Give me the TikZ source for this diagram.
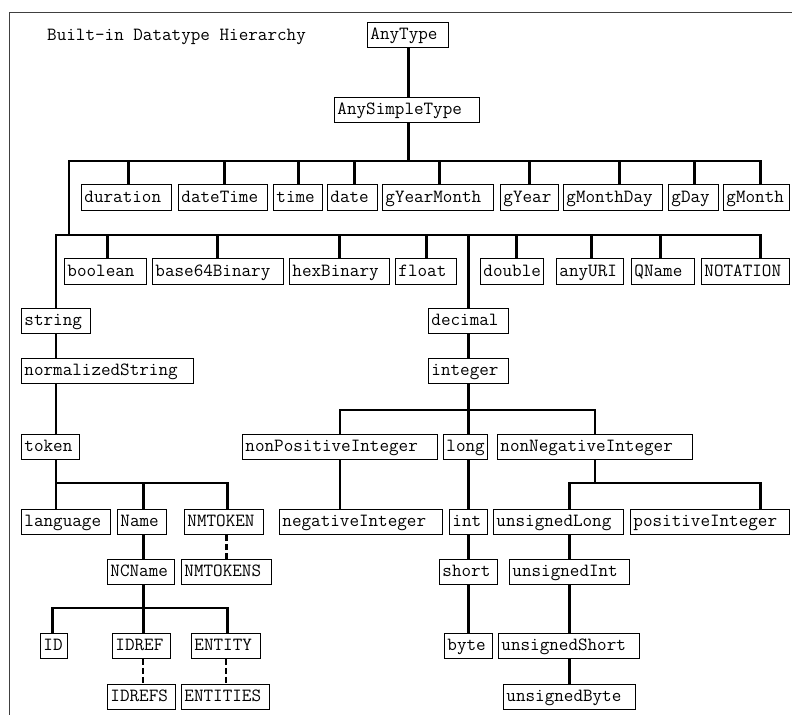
\documentclass[tikz,border=0pt]{standalone}
\usepackage{fontspec}
% fixed-width, left-aligned label inside a box of total width #1 (pt)
\newcommand\boxlbl[2]{\hbox to \dimexpr#1pt-6pt\relax{#2\hss}}
\begin{document}
\begin{tikzpicture}[x=1pt,y=-1pt,
  typ/.style={draw, line width=0.9pt, anchor=north west, inner xsep=3pt, inner ysep=0pt,
    minimum height=25pt, text height=13pt, text depth=3pt,
    font=\fontsize{18.6}{20}\selectfont\ttfamily},
  tall/.style={minimum height=26pt},
  link/.style={line width=2.6pt},
  dlink/.style={line width=2.4pt, dash pattern=on 6pt off 3pt},
  frame/.style={line width=1pt, black!75}]
\useasboundingbox (0,0) rectangle (792,715);
\draw[frame] (792,12) -- (9,12) -- (9,715);

\node[anchor=base west, inner sep=0pt, font=\fontsize{18.6}{20}\selectfont\ttfamily] (title) at (47,40) {Built-in Datatype Hierarchy};

% ---- top of the hierarchy
\node[typ] (anytype)   at (367,22) {\boxlbl{81}{AnyType}};
\node[typ] (anysimple) at (334,97) {\boxlbl{145}{AnySimpleType}};

% ---- date and time types
\node[typ,tall] (duration)   at (81,184)  {\boxlbl{90}{duration}};
\node[typ,tall] (datetime)   at (178,184) {\boxlbl{89}{dateTime}};
\node[typ,tall] (time)       at (273,184) {\boxlbl{49}{time}};
\node[typ,tall] (date)       at (327,184) {\boxlbl{50}{date}};
\node[typ,tall] (gyearmonth) at (382,184) {\boxlbl{111}{gYearMonth}};
\node[typ,tall] (gyear)      at (500,184) {\boxlbl{58}{gYear}};
\node[typ,tall] (gmonthday)  at (563,184) {\boxlbl{99}{gMonthDay}};
\node[typ,tall] (gday)       at (668,184) {\boxlbl{50}{gDay}};
\node[typ,tall] (gmonth)     at (723,184) {\boxlbl{66}{gMonth}};

% ---- other primitive types
\node[typ,tall] (boolean)   at (64,258)  {\boxlbl{82}{boolean}};
\node[typ,tall] (base64)    at (152,258) {\boxlbl{131}{base64Binary}};
\node[typ,tall] (hexbinary) at (289,258) {\boxlbl{100}{hexBinary}};
\node[typ,tall] (float)     at (395,258) {\boxlbl{61}{float}};
\node[typ,tall] (double)    at (480,258) {\boxlbl{63}{double}};
\node[typ,tall] (anyuri)    at (556,258) {\boxlbl{67}{anyURI}};
\node[typ,tall] (qname)     at (631,258) {\boxlbl{63}{QName}};
\node[typ,tall] (notation)  at (701,258) {\boxlbl{88}{NOTATION}};

% ---- string branch
\node[typ] (string)   at (21,308) {\boxlbl{69}{string}};
\node[typ] (normstr)  at (21,358) {\boxlbl{172}{normalizedString}};
\node[typ] (token)    at (21,434) {\boxlbl{58}{token}};
\node[typ] (language) at (21,509) {\boxlbl{89}{language}};
\node[typ] (name)     at (117,509) {\boxlbl{49}{Name}};
\node[typ] (nmtoken)  at (184,509) {\boxlbl{79}{NMTOKEN}};
\node[typ] (ncname)   at (107,559) {\boxlbl{67}{NCName}};
\node[typ] (nmtokens) at (181,559) {\boxlbl{90}{NMTOKENS}};
\node[typ] (id)       at (40,633)  {\boxlbl{27}{ID}};
\node[typ] (idref)    at (112,633) {\boxlbl{58}{IDREF}};
\node[typ] (entity)   at (191,633) {\boxlbl{69}{ENTITY}};
\node[typ] (idrefs)   at (107,684) {\boxlbl{68}{IDREFS}};
\node[typ] (entities) at (181,684) {\boxlbl{88}{ENTITIES}};

% ---- decimal branch
\node[typ] (decimal) at (428,308) {\boxlbl{80}{decimal}};
\node[typ] (integer) at (428,358) {\boxlbl{80}{integer}};
\node[typ] (nonpos)  at (242,434) {\boxlbl{195}{nonPositiveInteger}};
\node[typ] (long)    at (443,434) {\boxlbl{44}{long}};
\node[typ] (nonneg)  at (497,434) {\boxlbl{195}{nonNegativeInteger}};
\node[typ] (negint)  at (279,509) {\boxlbl{163}{negativeInteger}};
\node[typ] (int)     at (449,509) {\boxlbl{38}{int}};
\node[typ] (ulong)   at (493,509) {\boxlbl{130}{unsignedLong}};
\node[typ] (posint)  at (630,509) {\boxlbl{159}{positiveInteger}};
\node[typ] (short)   at (439,559) {\boxlbl{58}{short}};
\node[typ] (uint)    at (509,559) {\boxlbl{120}{unsignedInt}};
\node[typ] (byte)    at (444,633) {\boxlbl{48}{byte}};
\node[typ] (ushort)  at (498,633) {\boxlbl{141}{unsignedShort}};
\node[typ] (ubyte)   at (503,684) {\boxlbl{132}{unsignedByte}};

% ---- bus lines
\coordinate (bus1) at (69,161);
\coordinate (bus2) at (56,235);
\coordinate (ibus) at (339,410);
\coordinate (tbus) at (56,483);
\coordinate (nbus) at (52,608);
\coordinate (ubus) at (569,483);

% AnyType -> AnySimpleType -> first bus
\draw[link] ([xshift=0.5pt]anytype.south) -- ([xshift=0.5pt]anytype.south |- anysimple.north);
\draw[link] ([xshift=1.5pt]anysimple.south) -- ([xshift=1.5pt]anysimple.south |- bus1);
\draw[link] ([xshift=4pt]gmonth.north) |- (bus1) -- (bus1 |- bus2);
\foreach \n/\d in {duration/2, datetime/1.5, time/0.5, date/2, gyearmonth/1.5, gyear/0, gmonthday/6.5, gday/1}
  \draw[link] ([xshift=\d pt]\n.north) -- ([xshift=\d pt]\n.north |- bus1);

% second bus
\draw[link] (string.north) |- ([xshift=15pt]notation.north |- bus2) -- ([xshift=15pt]notation.north);
\foreach \n/\d in {boolean/2, base64/-0.5, hexbinary/0, float/0.5, double/4.5, anyuri/1.5, qname/-2.5}
  \draw[link] ([xshift=\d pt]\n.north) -- ([xshift=\d pt]\n.north |- bus2);
\draw[link] (decimal.north) -- (decimal.north |- bus2);

% string branch
\draw[link] (string.south) -- (string.south |- normstr.north);
\draw[link] (normstr.south -| string) -- (token.north -| string);
\draw[link] (token.south -| string) -- (language.north -| string);
\draw[link] (tbus) -- ([xshift=3.5pt]nmtoken.north |- tbus) -- ([xshift=3.5pt]nmtoken.north);
\draw[link] ([xshift=1.5pt]name.north) -- ([xshift=1.5pt]name.north |- tbus);
\draw[link] ([xshift=1.5pt]name.south) -- ([xshift=1.5pt]name.south |- ncname.north);
\draw[link] ([xshift=1.5pt]name.south |- ncname.south) -- ([xshift=1.5pt]name.south |- idref.north);
\draw[link] ([xshift=-1.5pt]id.north) |- ([xshift=1.5pt]entity.north |- nbus) -- ([xshift=1.5pt]entity.north);
\draw[dlink] (nmtokens.north) -- (nmtokens.north |- nmtoken.south);
\draw[dlink] ([xshift=1.5pt]idref.south) -- ([xshift=1.5pt]idref.south |- idrefs.north);
\draw[dlink] (entity.south) -- (entity.south |- entities.north);

% decimal branch
\draw[link] (decimal.south) -- (integer.north);
\draw[link] (integer.south) -- (integer.south |- long.north);
\draw[link] (nonpos.north) |- (nonneg.north |- ibus) -- (nonneg.north);
\draw[link] (long.south -| int) -- (int.north);
\draw[link] (int.south) -- (short.north);
\draw[link] (short.south) -- (byte.north -| short);
\draw[link] (nonpos.south) -- (nonpos.south |- negint.north);
\draw[link] (nonneg.south) -- (nonneg.south |- ubus);
\draw[link] (ulong.north -| uint) |- ([xshift=50.5pt]posint.north |- ubus) -- ([xshift=50.5pt]posint.north);
\draw[link] (ulong.south -| uint) -- (uint.north);
\draw[link] (uint.south) -- (ushort.north -| uint);
\draw[link] (ushort.south -| uint) -- (ubyte.north -| uint);
\end{tikzpicture}
\end{document}
